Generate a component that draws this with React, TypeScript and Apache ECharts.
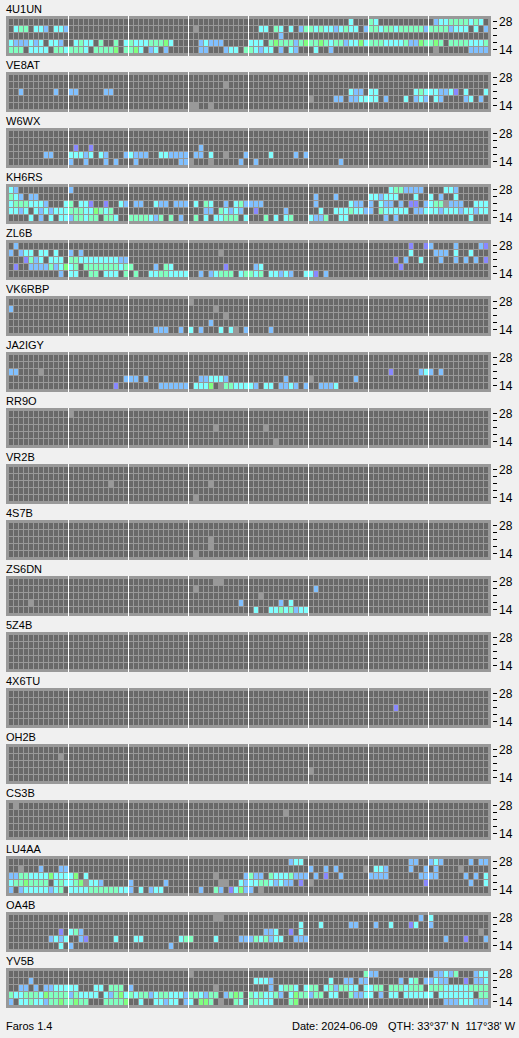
import React, { useEffect, useRef } from "react";
import * as echarts from "echarts";

// Each row is a list of "startColumn:levels" runs, 15-minute columns 0..95.
// Levels: 1 violet, 2 blue, 3 cyan, 4 aqua, 5 green (signal strength), g = noise.
const bands = ["28", "24", "21", "18", "14"];
const bandLabels = ["28", "", "", "", "14"];
const footerLeft = "Faros 1.4";
const footerDate = "Date: 2024-06-09";
const footerQth = "QTH: 33°37' N  117°38' W";

const s4U1UN = [
  "68:3 72:43 85:2334444343",
  "1:344 5:332 9:332 37:g 50:33 53:43 56:3 58:244343323433 71:244344344444244442333 93:3 95:2",
  "54:2",
  "0:3222323 8:332 13:3433 18:4 21:4 23:3433344453 38:23222 48:333 52:45444245445434423353444333342254454 88:44443334",
  "0:444 4:3333 9:4434443 17:44445 23:4453 28:23 31:2 38:22 43:233 47:443233 54:2 56:32 61:3 64:2 85:g 92:2222",
];
const sVE8AT = [
  "",
  "43:g",
  "2:2 9:2 12:22 19:22 68:322 72:33 81:343332231 91:3 95:3",
  "60:g 65:22 68:223333 75:2 79:3 81:232 85:32 91:23 94:2",
  "36:gg 40:g",
];
const sW6WX = [
  "",
  "",
  "13:1 16:1 38:2",
  "7:22 12:33323 18:32 23:23222 30:332222 37:22 40:3 43:g 47:2 52:3 57:2 59:2",
  "12:2 15:2 19:2 21:2 25:2 34:22 36:g 40:g 46:2 49:2 66:2",
];
const sKH6RS = [
  "0:32 12:2 76:3442222 87:332",
  "0:432 4:22 61:2 65:2 72:332333 81:3 84:3 86:2 89:3",
  "0:34443332 11:34 14:331 19:1 22:32 25:22 29:322 33:222 37:3 39:43 43:2 45:342222 61:2 68:322 72:2 74:322 78:2 80:11 83:2344g222 93:333",
  "0:3323 5:3232333444335434 39:22 42:43232 49:1 55:2 62:3 65:3 66:33 68:43 70:3 71:22 74:433333 81:223332333233233",
  "4:3 6:2 8:3 10:33 12:244344 19:443 24:4444324 32:4 34:2 37:4 39:3 41:33444 47:3 51:4 53:3 55:34 60:3224 66:33 75:2 77:2 92:3",
];
const sZL6B = [
  "1:2 80:1 83:12 89:2 94:21",
  "0:2 2:233 6:33 9:3 12:2 14:2 42:g 80:3 85:222 89:3 92:3",
  "3:1423 8:333 12:443333333322 77:1 79:2 82:3 86:2 89:2 91:2 93:2 95:1",
  "1:1 4:22224235 12:34 15:4444444344 29:2 31:43 43:1 49:23 78:1",
  "10:2 12:33 16:44 19:333 23:4 25:4 28:33443333 38:2 40:23444 46:34434 52:33232 59:331 63:2",
];
const sVK6RBP = [
  "36:g",
  "0:2 41:g",
  "43:g",
  "40:2",
  "29:222 34:2 36:3 38:2 42:3 44:3 45:g 47:2 52:2",
];
const sJA2IGY = [
  "",
  "",
  "0:22 6:g 76:1 82:232 86:2",
  "23:222 27:2 38:223332 55:2 60:g 69:2",
  "21:1 30:222222 37:3335 42:g 43:4433332 51:33 54:2232 59:2 62:2223",
];
const sRR9O = ["12:g", "", "41:g 51:g", "", "53:g"];
const sVR2B = ["", "", "20:g 40:g", "", "37:g"];
const s4S7B = ["", "", "40:g", "40:g", "37:g"];
const sZS6DN = [
  "41:gg",
  "37:g 61:2",
  "50:g",
  "4:g 46:2 54:2 56:3",
  "49:3 52:33434233",
];
const s5Z4B = ["", "", "", "", ""];
const s4X6TU = ["", "", "77:1", "", ""];
const sOH2B = ["", "10:g", "", "60:g", ""];
const sCS3B = ["1:g", "55:g", "", "", ""];
const sLU4AA = [
  "56:233 80:22 84:232 92:2 94:22",
  "2:g 6:2 10:22 60:2 63:2 65:2 71:g 73:332 80:2 83:2 85:2 90:g",
  "0:2244333353333 13:5 15:3 41:g 47:2422 52:43334222 61:2 63:1 66:2 72:2222 82:2222 91:2 93:2 95:3",
  "0:34454444 9:343345 15:g 16:332 24:2 31:2 42:gg 46:3233 50:4432322 58:1 60:g 83:1 92:2 95:3",
  "0:2 2:233333234 12:3333444444332 26:3 28:233 38:2 41:42 44:13522 50:g",
];
const sOA4B = [
  "41:gg 82:2 84:3",
  "58:3 62:3 68:22 73:2 76:3 80:13 84:2",
  "10:1 12:342 51:223 56:1 58:3 94:g",
  "8:2323 14:21 21:3 25:33 34:344 41:3 46:22243 51:4233 57:222 87:2 91:1 95:2",
  "10:3 12:2 32:2",
];
const sYV5B = [
  "36:g 71:422 85:22324 93:233",
  "4:2 49:3 50:332 64:3 67:22 70:22 78:2 80:34 83:22322 91:1 93:223",
  "2:22 5:2 7:2233333 17:33 20:444 24:2 41:g 52:2 54:3443 59:344 63:3424433 71:3344 76:4443444 84:444333334444",
  "0:433444354444243333 19:3245 23:3 24:43442344333244 38:3 39:244 43:2454 48:4343342 56:35442 61:44 64:33 68:42233 74:2 76:33 79:333333 86:3333333 94:44",
  "0:2 2:33433244544 13:5 14:44 19:44445 26:3 29:33233 35:23 38:554 42:g 45:43 48:44333 56:45 87:222333222",
];

const stationNames = [
  "4U1UN", "VE8AT", "W6WX", "KH6RS", "ZL6B", "VK6RBP", "JA2IGY", "RR9O", "VR2B",
  "4S7B", "ZS6DN", "5Z4B", "4X6TU", "OH2B", "CS3B", "LU4AA", "OA4B", "YV5B",
];
const stationRows = [
  s4U1UN, sVE8AT, sW6WX, sKH6RS, sZL6B, sVK6RBP, sJA2IGY, sRR9O, sVR2B,
  s4S7B, sZS6DN, s5Z4B, s4X6TU, sOH2B, sCS3B, sLU4AA, sOA4B, sYV5B,
];
const hourMarks = [11.5, 23.5, 35.5, 47.5, 59.5, 71.5, 83.5];

const levelColors: Record<string, string> = {
  "0": "#696969",
  "1": "#8888ff",
  "2": "#80c0ff",
  "3": "#80ffff",
  "4": "#80ffc0",
  "5": "#80ff80",
  g: "#999999",
};
const levelKeys = ["0", "1", "2", "3", "4", "5", "g"];

function buildCells(rows: string[]): number[][] {
  const grid: number[][] = bands.map(() => new Array(96).fill(0));
  rows.forEach((row, r) => {
    row.split(" ").filter(Boolean).forEach((run) => {
      const [start, levels] = run.split(":");
      levels.split("").forEach((l, k) => {
        grid[r][Number(start) + k] = levelKeys.indexOf(l);
      });
    });
  });
  const out: number[][] = [];
  grid.forEach((cols, r) => cols.forEach((level, c) => out.push([c, r, level])));
  return out;
}

const FONT = "'Liberation Sans'";
const PANEL_H = 40;
const PITCH = 56;
const TOP = 16;

export default function App() {
  const ref = useRef<HTMLDivElement>(null);
  useEffect(() => {
    document.body.style.margin = "0";
    document.body.style.background = "#f0f0f0";
    const chart = echarts.init(ref.current!, undefined, { renderer: "svg" });
    const renderCell = (_p: any, api: any) => {
      const c = api.coord([api.value(0), api.value(1)]);
      return {
        type: "rect",
        shape: { x: Math.round(c[0]) - 2, y: Math.round(c[1]) - 3, width: 4, height: 6 },
        style: { fill: levelColors[levelKeys[api.value(2)]] },
      };
    };
    const renderTick = (_p: any, api: any) => {
      const c = api.coord([96, api.value(0)]);
      return {
        type: "rect",
        shape: { x: Math.round(c[0]) + 2, y: Math.round(c[1]) - 1, width: 4, height: 1 },
        style: { fill: "#000000" },
      };
    };
    chart.setOption({
      animation: false,
      backgroundColor: "#f0f0f0",
      tooltip: { show: false },
      title: stationNames.map((name, i) => ({
        text: name,
        left: 6,
        top: TOP + i * PITCH - 13,
        padding: 0,
        textStyle: { fontFamily: FONT, fontSize: 11, fontWeight: "normal", color: "#000000" },
      })),
      grid: stationNames.map((_, i) => ({
        show: true,
        left: 6,
        width: 485,
        top: TOP + i * PITCH,
        height: PANEL_H,
        backgroundColor: "#999999",
        borderWidth: 0,
      })),
      xAxis: stationNames.map((_, i) => ({
        type: "value",
        gridIndex: i,
        min: -1,
        max: 96,
        axisLine: { show: false },
        axisTick: { show: false, customValues: hourMarks },
        axisLabel: { show: false },
        splitLine: { show: true, lineStyle: { color: "#ffffff", width: 1 } },
      })),
      yAxis: stationNames.map((_, i) => ({
        type: "value",
        gridIndex: i,
        position: "right",
        offset: 2,
        inverse: true,
        min: -6 / 7,
        max: 34 / 7,
        axisLine: { show: false },
        axisTick: { show: false },
        axisLabel: {
          show: true,
          customValues: [0, 4],
          margin: 6,
          fontFamily: FONT,
          fontSize: 12,
          color: "#000000",
          formatter: (v: number) => bandLabels[Math.round(v)],
        },
        splitLine: { show: false },
      })),
      series: [
        ...stationRows.map((rows, i) => ({
          type: "custom",
          xAxisIndex: i,
          yAxisIndex: i,
          silent: true,
          clip: false,
          renderItem: renderCell,
          data: buildCells(rows),
        })),
        ...stationRows.map((_, i) => ({
          type: "custom",
          xAxisIndex: i,
          yAxisIndex: i,
          silent: true,
          clip: false,
          renderItem: renderTick,
          data: bands.map((_b, r) => [r]),
        })),
      ],
      graphic: [
        { type: "text", x: 6, y: 1020, style: { text: footerLeft, font: `11px ${FONT}`, fill: "#000" } },
        { type: "text", x: 292, y: 1020, style: { text: footerDate, font: `11px ${FONT}`, fill: "#000" } },
        { type: "text", x: 388, y: 1020, style: { text: footerQth, font: `11px ${FONT}`, fill: "#000" } },
      ],
    });
    return () => chart.dispose();
  }, []);
  return <div ref={ref} style={{ position: "fixed", left: 0, top: 0, width: 519, height: 1038 }} />;
}
